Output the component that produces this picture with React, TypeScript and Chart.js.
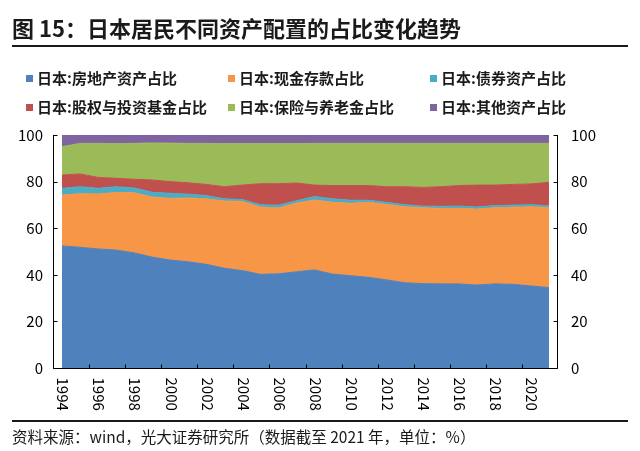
import React, { useEffect, useRef } from 'react';
import { Chart, registerables } from 'chart.js';

Chart.register(...registerables);

const years = ['1994', '1995', '1996', '1997', '1998', '1999', '2000', '2001', '2002', '2003', '2004', '2005', '2006', '2007', '2008', '2009', '2010', '2011', '2012', '2013', '2014', '2015', '2016', '2017', '2018', '2019', '2020', '2021'];

const realEstate = [52.4, 51.8, 51.1, 50.6, 49.4, 47.6, 46.3, 45.6, 44.5, 42.8, 41.8, 40.2, 40.4, 41.3, 42.1, 40.3, 39.6, 38.9, 37.8, 36.6, 36.2, 36.1, 36.1, 35.6, 36.1, 35.9, 35.2, 34.5];
const cashDeposits = [21.8, 23.0, 23.6, 24.7, 25.8, 25.8, 26.5, 27.4, 28.1, 28.9, 29.7, 28.9, 28.3, 29.5, 30.0, 30.8, 31.1, 32.2, 32.4, 32.6, 32.6, 32.4, 32.4, 32.6, 32.7, 33.1, 34.0, 34.3];
const bonds = [2.9, 3.0, 2.4, 2.5, 2.1, 2.0, 2.2, 1.6, 1.4, 0.9, 0.8, 1.0, 1.2, 1.0, 1.5, 1.5, 1.3, 0.9, 0.9, 0.9, 0.7, 0.9, 1.0, 0.9, 0.9, 0.9, 0.9, 0.8];
const equityFunds = [5.7, 5.5, 4.7, 3.6, 3.7, 5.3, 5.0, 4.9, 4.8, 5.2, 6.2, 9.0, 9.2, 7.6, 4.9, 5.7, 6.3, 6.3, 6.7, 7.7, 8.0, 8.4, 8.8, 9.4, 8.8, 8.9, 8.9, 10.1];
const insurancePension = [12.2, 13.1, 14.6, 14.9, 15.4, 15.9, 16.5, 16.9, 17.6, 18.5, 17.8, 17.2, 17.2, 16.9, 17.9, 18.1, 18.1, 18.1, 18.6, 18.6, 18.9, 18.6, 18.1, 17.9, 17.9, 17.6, 17.4, 16.7];
const otherAssets = [5.0, 3.6, 3.6, 3.7, 3.6, 3.4, 3.5, 3.6, 3.6, 3.7, 3.7, 3.7, 3.7, 3.7, 3.6, 3.6, 3.6, 3.6, 3.6, 3.6, 3.6, 3.6, 3.6, 3.6, 3.6, 3.6, 3.6, 3.6];

const seriesNames = ['日本:房地产资产占比', '日本:现金存款占比', '日本:债券资产占比', '日本:股权与投资基金占比', '日本:保险与养老金占比', '日本:其他资产占比'];
const seriesValues = [realEstate, cashDeposits, bonds, equityFunds, insurancePension, otherAssets];
const seriesColors = ['#4F81BD', '#F79646', '#4BACC6', '#C0504D', '#9BBB59', '#8064A2'];

const yTicks = [0, 20, 40, 60, 80, 100];

const titleText = '图 15：日本居民不同资产配置的占比变化趋势';
const sourceText = '资料来源：wind，光大证券研究所（数据截至 2021 年，单位：%）';

const FONT = '"Noto Sans CJK SC", "Noto Sans", sans-serif';

const axisPlugin = {
  id: 'excelAxes',
  afterDraw(chart: any) {
    const { ctx, chartArea } = chart;
    const { left, right, top, bottom } = chartArea;
    const xs = chart.scales.x;
    const ys = chart.scales.y;
    const L = Math.round(left) + 0.5;
    const R = Math.round(right) - 0.5;
    const B = Math.round(bottom) + 0.5;
    ctx.save();
    ctx.strokeStyle = '#000';
    ctx.lineWidth = 1;
    ctx.beginPath();
    ctx.moveTo(L, top);
    ctx.lineTo(L, B);
    ctx.lineTo(R, B);
    ctx.lineTo(R, top);
    yTicks.forEach((v) => {
      const py = Math.round(ys.getPixelForValue(v)) + 0.5;
      ctx.moveTo(L, py);
      ctx.lineTo(L + 4, py);
      ctx.moveTo(R - 4, py);
      ctx.lineTo(R, py);
    });
    const half = (xs.getPixelForValue(1) - xs.getPixelForValue(0)) / 2;
    years.forEach((_, i) => {
      if (i % 2 !== 0) return;
      const bx = Math.round(xs.getPixelForValue(i) - half) + 0.5;
      ctx.moveTo(bx, B);
      ctx.lineTo(bx, B - 4);
    });
    ctx.stroke();

    ctx.fillStyle = '#000';
    ctx.font = `15px ${FONT}`;
    years.forEach((label, i) => {
      if (i % 2 !== 0) return;
      const cx = xs.getPixelForValue(i);
      ctx.save();
      ctx.translate(cx + 1, B + 9);
      ctx.rotate(Math.PI / 2);
      ctx.textAlign = 'left';
      ctx.textBaseline = 'middle';
      ctx.fillText(label, 0, 0);
      ctx.restore();
    });
    ctx.restore();
  },
};

export default function App() {
  const canvasRef = useRef<HTMLCanvasElement | null>(null);

  useEffect(() => {
    if (!canvasRef.current) return;
    const chart = new Chart(canvasRef.current, {
      type: 'line',
      data: {
        labels: years,
        datasets: seriesNames.map((name, i) => ({
          label: name,
          data: seriesValues[i],
          backgroundColor: seriesColors[i],
          borderColor: seriesColors[i],
          borderWidth: 1,
          pointRadius: 0,
          tension: 0,
          fill: i === 0 ? 'origin' : '-1',
          yAxisID: 'y',
        })),
      },
      options: {
        responsive: false,
        animation: false,
        layout: { padding: { top: 135, left: 0, right: 0, bottom: 0 } },
        plugins: {
          legend: { display: false },
          tooltip: { enabled: false },
        },
        scales: {
          x: {
            type: 'category',
            offset: true,
            grid: { display: false, drawTicks: false },
            border: { display: false },
            ticks: { display: false },
            afterFit: (s: any) => {
              s.height = 83;
            },
          },
          y: {
            position: 'left',
            stacked: true,
            min: 0,
            max: 100,
            grid: { display: false, drawTicks: false },
            border: { display: false },
            ticks: {
              stepSize: 20,
              padding: 10,
              color: '#000',
              font: { family: FONT, size: 15 },
            },
            afterFit: (s: any) => {
              s.width = 53;
            },
          },
          y2: {
            position: 'right',
            min: 0,
            max: 100,
            grid: { display: false, drawTicks: false },
            border: { display: false },
            ticks: {
              stepSize: 20,
              padding: 13,
              color: '#000',
              font: { family: FONT, size: 15 },
            },
            afterFit: (s: any) => {
              s.width = 82;
            },
          },
        },
      },
      plugins: [axisPlugin],
    });
    return () => chart.destroy();
  }, []);

  const legendCols = [26, 228, 430];
  const legendRows = [78, 107];

  return (
    <div style={{ position: 'absolute', left: 0, top: 0, width: 640, height: 451, background: '#fff', overflow: 'hidden', fontFamily: FONT }}>
      <canvas ref={canvasRef} width={640} height={451} style={{ position: 'absolute', left: 0, top: 0, width: 640, height: 451 }} />
      <div style={{ position: 'absolute', left: 12, top: 12, fontSize: 22, lineHeight: '30px', fontWeight: 700, color: '#1a1a1a', whiteSpace: 'nowrap' }}>{titleText}</div>
      <div style={{ position: 'absolute', left: 12, top: 45, width: 616, height: 2, background: '#1a1a1a' }} />
      {seriesNames.map((name, i) => (
        <div
          key={name}
          style={{
            position: 'absolute',
            left: legendCols[i % 3],
            top: legendRows[Math.floor(i / 3)] - 11,
            height: 22,
            display: 'flex',
            alignItems: 'center',
            whiteSpace: 'nowrap',
          }}
        >
          <span style={{ display: 'inline-block', width: 7, height: 7, background: seriesColors[i], marginRight: 4 }} />
          <span style={{ fontSize: 15, lineHeight: '22px', fontWeight: 700, color: '#1a1a1a' }}>{name}</span>
        </div>
      ))}
      <div style={{ position: 'absolute', left: 12, top: 420, width: 616, height: 1.5, background: '#1a1a1a' }} />
      <div style={{ position: 'absolute', left: 12, top: 425, fontSize: 15.5, lineHeight: '22px', color: '#1a1a1a', whiteSpace: 'nowrap' }}>{sourceText}</div>
    </div>
  );
}
